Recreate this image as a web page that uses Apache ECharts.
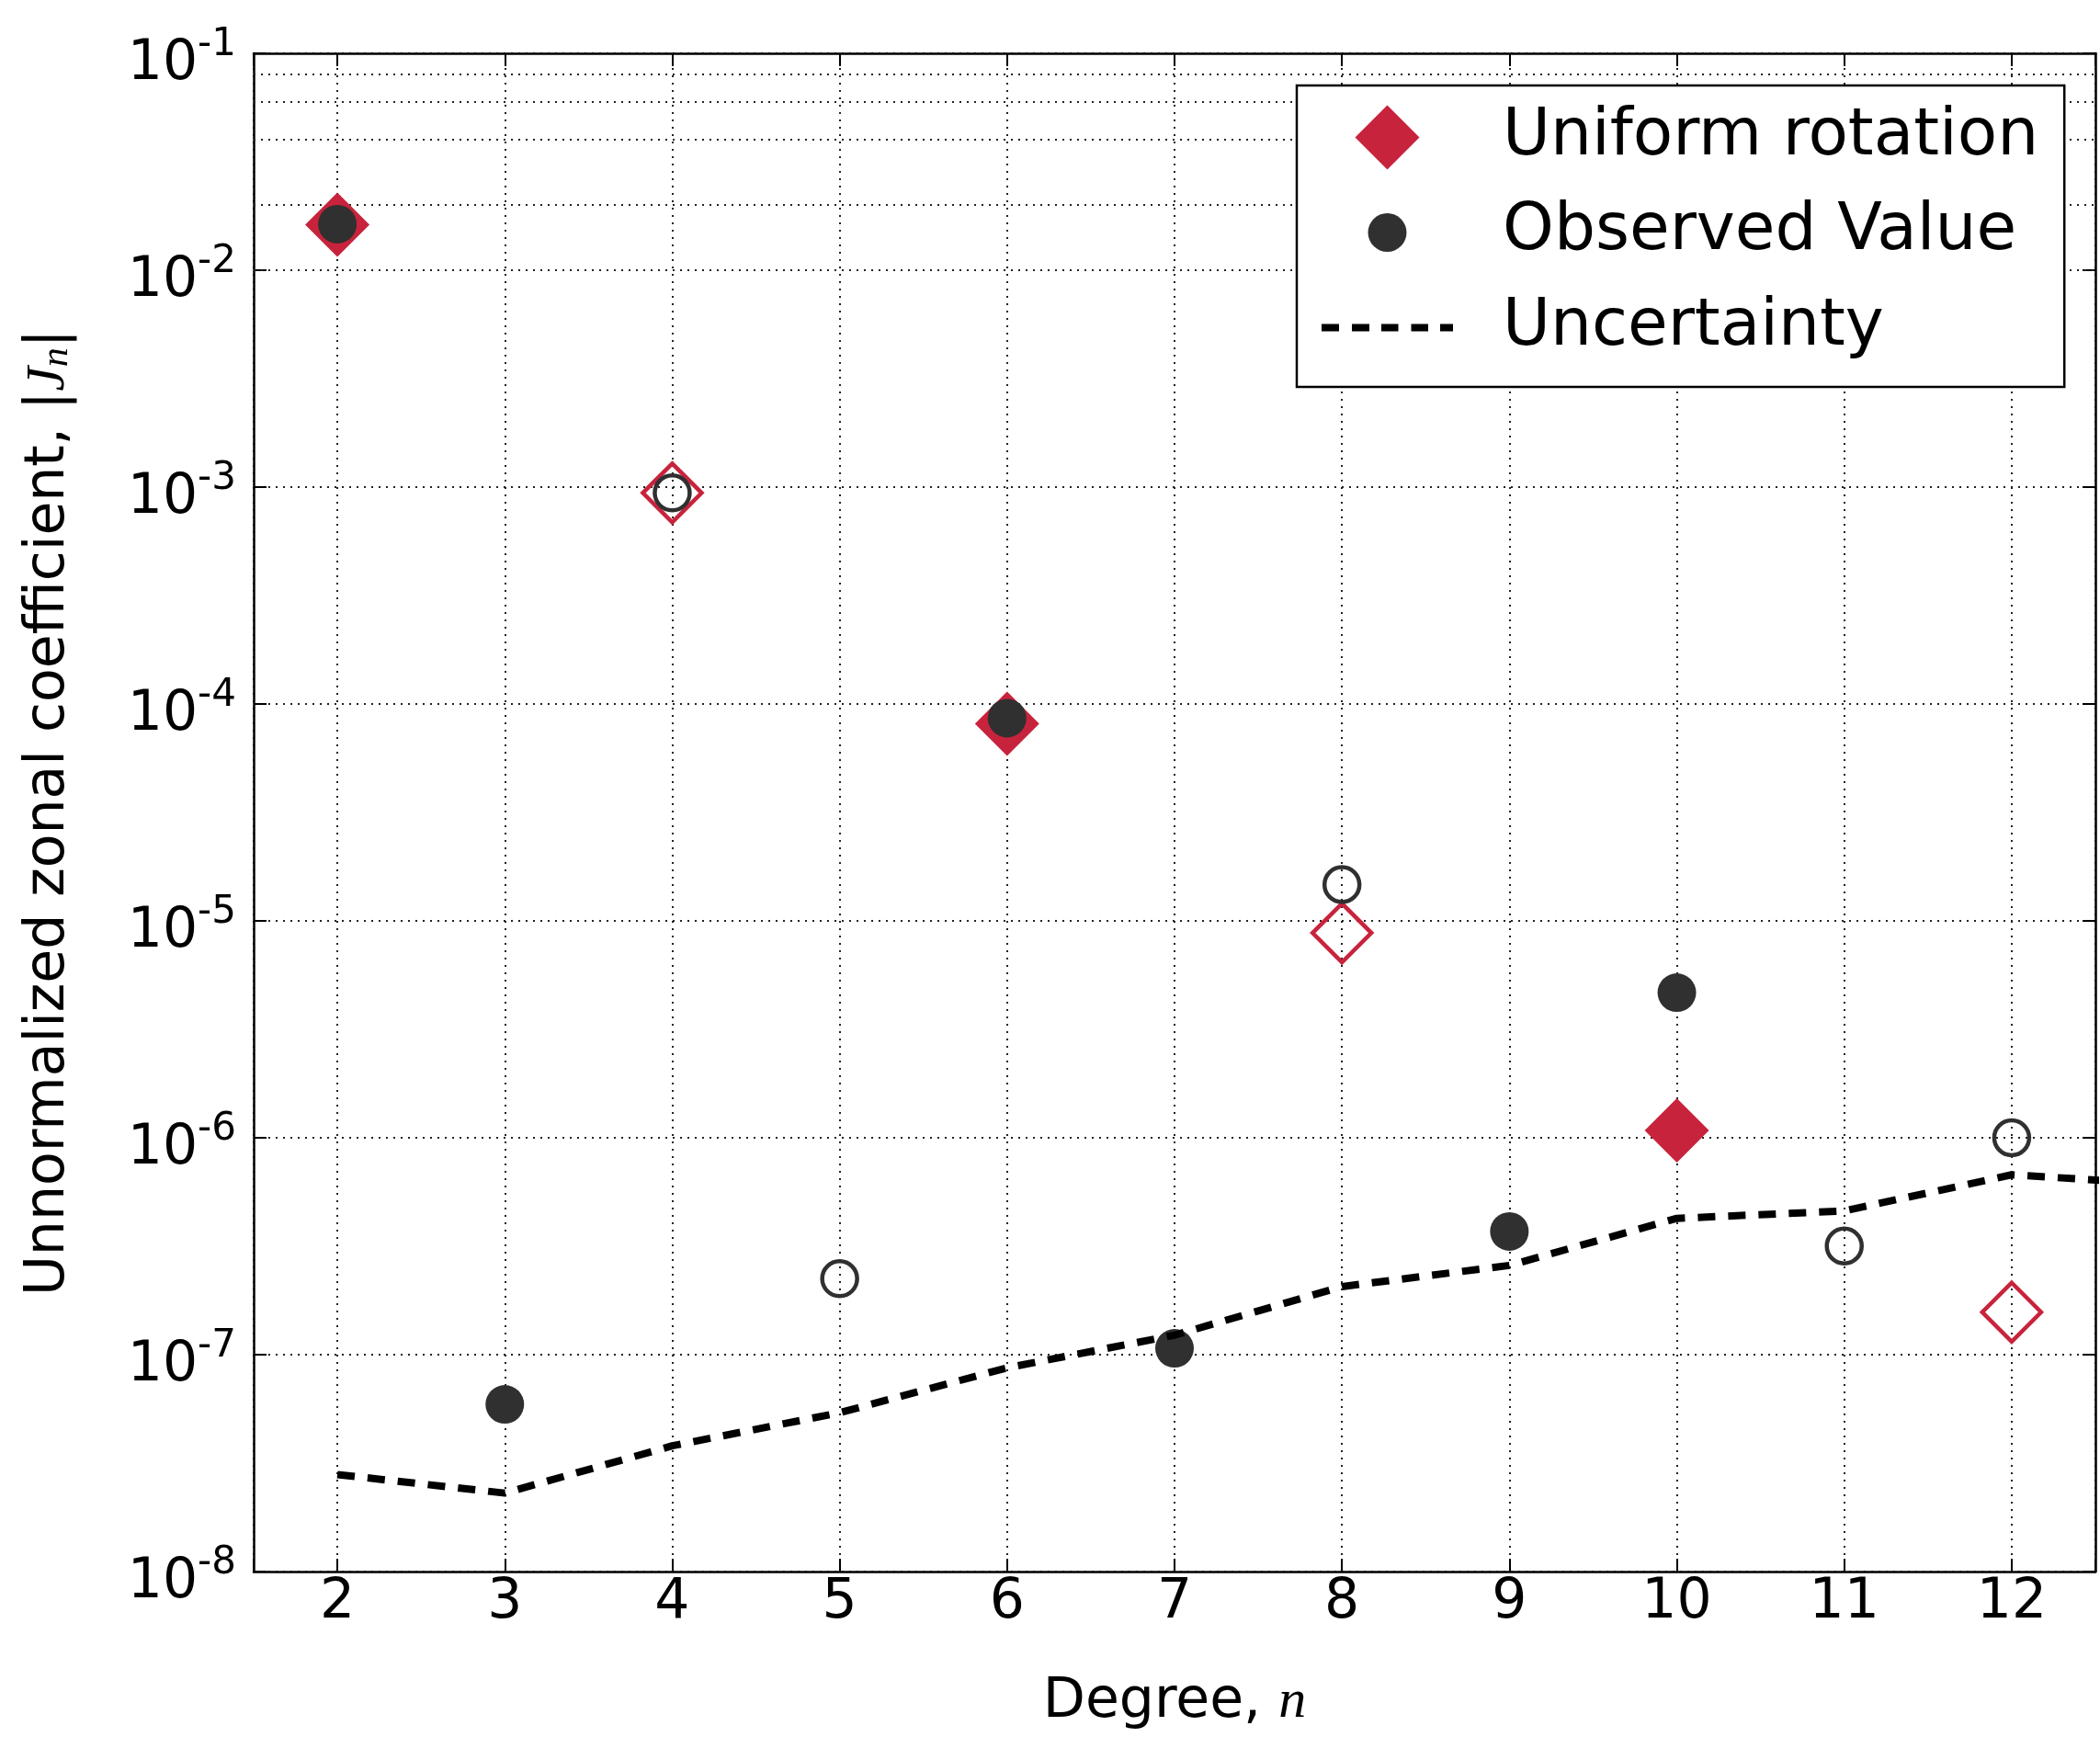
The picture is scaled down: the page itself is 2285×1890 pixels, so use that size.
<!DOCTYPE html>
<html>
<head>
<meta charset="utf-8">
<script src="https://cdn.jsdelivr.net/npm/echarts@6/dist/echarts.min.js"></script>
<style>
html,body{margin:0;padding:0;background:#fff;}
#chart{width:2285px;height:1890px;}
</style>
</head>
<body>
<div id="chart"></div>
<script>
// ---- data ----
// signed zonal coefficients: positive values are drawn filled, negative values drawn open
var degrees = [2, 3, 4, 5, 6, 7, 8, 9, 10, 11, 12];
var observedJ = [1.63e-2, 5.9e-8, -9.4e-4, -2.24e-7, 8.6e-5, 1.07e-7, -1.47e-5, 3.7e-7, 4.67e-6, -3.17e-7, -1.0e-6];
var uniformDegrees = [2, 4, 6, 8, 10, 12];
var uniformJ = [1.62e-2, -9.4e-4, 8.1e-5, -8.8e-6, 1.08e-6, -1.57e-7];
var uncertaintyDegrees = [2, 3, 4, 5, 6, 7, 8, 9, 10, 11, 12, 13];
var uncertainty = [2.8e-8, 2.3e-8, 3.8e-8, 5.4e-8, 8.7e-8, 1.23e-7, 2.06e-7, 2.58e-7, 4.25e-7, 4.6e-7, 6.75e-7, 6.05e-7];
var minorGridMantissas = [2, 4, 6, 8];
var decadeExponents = [-8, -7, -6, -5, -4, -3, -2];
var seriesNames = ['Uniform rotation', 'Observed Value', 'Uncertainty'];

var RED = '#C8233C';
var DARK = '#303030';
var FONT = 'DejaVu Sans';

var uniformData = uniformDegrees.map(function (n, i) {
  var v = uniformJ[i];
  var pos = v > 0;
  return {
    value: [n, Math.abs(v)],
    symbolSize: pos ? 70 : 64,
    itemStyle: pos ? { color: RED, opacity: 1 } : { color: 'rgba(0,0,0,0)', borderColor: RED, borderWidth: 4.5, opacity: 1 }
  };
});
var observedData = degrees.map(function (n, i) {
  var v = observedJ[i];
  var pos = v > 0;
  return {
    value: [n, Math.abs(v)],
    symbolSize: pos ? 42 : 38,
    itemStyle: pos ? { color: DARK, opacity: 1 } : { color: 'rgba(0,0,0,0)', borderColor: DARK, borderWidth: 4.5, opacity: 1 }
  };
});
var uncertaintyData = uncertaintyDegrees.map(function (n, i) { return [n, uncertainty[i]]; });

var minorLines = [];
decadeExponents.forEach(function (e) {
  minorGridMantissas.forEach(function (m) {
    minorLines.push({ yAxis: m * Math.pow(10, e) });
  });
});

var gridDots = { color: '#222', type: [2, 6], width: 2 };
var frame = { show: true, lineStyle: { color: '#000', width: 2.5 } };
var ticksIn = { show: true, inside: true, length: 14, lineStyle: { color: '#000', width: 2 } };

var option = {
  animation: false,
  backgroundColor: '#fff',
  grid: { left: 276, top: 58, right: 5, bottom: 180, containLabel: false },
  legend: {
    orient: 'vertical',
    left: 1411,
    top: 93,
    padding: [21, 28, 29, 27],
    itemGap: 32.5,
    itemWidth: 192,
    itemHeight: 70,
    selectedMode: false,
    backgroundColor: '#fff',
    borderColor: '#000',
    borderWidth: 2.5,
    borderRadius: 0,
    textStyle: { fontSize: 71, fontFamily: FONT, color: '#000', padding: [28, 0, 0, 0] },
    data: [
      { name: seriesNames[0], icon: 'path://M0,0 M192,70 M71.5,0 L106.5,35 L71.5,70 L36.5,35 Z', itemStyle: { color: RED, opacity: 1 } },
      { name: seriesNames[1], icon: 'path://M0,0 M192,70 M50.5,35 A21,21 0 1,1 92.5,35 A21,21 0 1,1 50.5,35 Z', itemStyle: { color: DARK, opacity: 1 } },
      { name: seriesNames[2], icon: 'path://M0,0 M192,70 M0,31 h19 v8 h-19 Z M33,31 h19 v8 h-19 Z M65,31 h18.5 v8 h-18.5 Z M97.5,31 h18.5 v8 h-18.5 Z M129,31 h14 v8 h-14 Z', itemStyle: { color: '#000', opacity: 1 } }
    ]
  },
  xAxis: [{
    type: 'value',
    min: 1.5,
    max: 12.5,
    splitNumber: 11,
    position: 'bottom',
    axisLine: frame,
    axisTick: ticksIn,
    splitLine: { show: true, lineStyle: gridDots },
    axisLabel: {
      fontSize: 60, fontFamily: FONT, color: '#000', margin: 4,
      formatter: function (v) { return Number.isInteger(v) ? String(v) : ''; }
    },
    name: 'Degree, {i|n}',
    nameLocation: 'middle',
    nameGap: 112,
    nameTextStyle: {
      fontSize: 60, fontFamily: FONT, color: '#000',
      rich: { i: { fontSize: 60, fontFamily: 'Liberation Serif', fontStyle: 'italic', color: '#000', lineHeight: 60 } }
    }
  }, {
    type: 'value',
    min: 1.5,
    max: 12.5,
    splitNumber: 11,
    position: 'top',
    axisLine: frame,
    axisTick: ticksIn,
    splitLine: { show: false },
    axisLabel: { show: false }
  }],
  yAxis: [{
    type: 'log',
    logBase: 10,
    min: 1e-8,
    max: 1e-1,
    position: 'left',
    axisLine: frame,
    axisTick: ticksIn,
    splitLine: { show: true, lineStyle: gridDots },
    axisLabel: {
      margin: 19,
      formatter: function (v) {
        var e = Math.round(Math.log10(v));
        return '{b|10}{s|' + e + '}';
      },
      rich: {
        b: { fontSize: 60, fontFamily: FONT, color: '#000', lineHeight: 60, padding: [12, 0, 12, 0], verticalAlign: 'top' },
        s: { fontSize: 42, fontFamily: FONT, color: '#000', lineHeight: 42, verticalAlign: 'top' }
      }
    },
    name: 'Unnormalized zonal coefficient, |{i|J}{sub|n}|',
    nameLocation: 'middle',
    nameGap: 193,
    nameTextStyle: {
      fontSize: 60, fontFamily: FONT, color: '#000',
      rich: {
        i: { fontSize: 60, fontFamily: 'Liberation Serif', fontStyle: 'italic', color: '#000', lineHeight: 60 },
        sub: { fontSize: 42, fontFamily: 'Liberation Serif', fontStyle: 'italic', color: '#000', lineHeight: 30, verticalAlign: 'bottom' }
      }
    }
  }, {
    type: 'log',
    logBase: 10,
    min: 1e-8,
    max: 1e-1,
    position: 'right',
    axisLine: frame,
    axisTick: ticksIn,
    splitLine: { show: false },
    axisLabel: { show: false }
  }],
  series: [
    {
      name: seriesNames[0],
      type: 'scatter',
      xAxisIndex: 0, yAxisIndex: 0,
      symbol: 'diamond',
      z: 3,
      itemStyle: { color: RED, opacity: 1 },
      data: uniformData
    },
    {
      name: seriesNames[1],
      type: 'scatter',
      xAxisIndex: 0, yAxisIndex: 0,
      symbol: 'circle',
      z: 4,
      itemStyle: { color: DARK, opacity: 1 },
      data: observedData
    },
    {
      name: seriesNames[2],
      type: 'line',
      xAxisIndex: 0, yAxisIndex: 0,
      symbol: 'none',
      showSymbol: false,
      z: 5,
      clip: true,
      lineStyle: { color: '#000', width: 8, type: [19, 14], cap: 'butt' },
      itemStyle: { color: '#000' },
      data: uncertaintyData,
      markLine: {
        silent: true,
        z: 1,
        symbol: ['none', 'none'],
        label: { show: false },
        animation: false,
        lineStyle: { color: '#222', type: [2, 6], width: 2 },
        data: minorLines
      }
    }
  ]
};

var chart = echarts.init(document.getElementById('chart'), null, { renderer: 'canvas' });
chart.setOption(option);
</script>
</body>
</html>
